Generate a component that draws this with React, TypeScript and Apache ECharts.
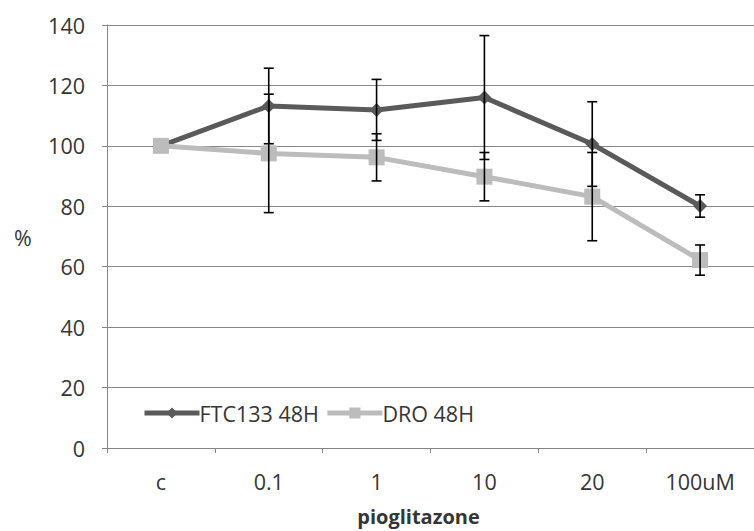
import React, { useEffect, useRef } from "react";
import * as echarts from "echarts";

const categories = ["c", "0.1", "1", "10", "20", "100uM"];
const ftcValues = [100, 113.2, 111.9, 116, 100.6, 80.1];
const ftcErrors = [0, 12.5, 10.1, 20.5, 14, 3.7];
const droValues = [100, 97.5, 96.2, 89.8, 83.2, 62.2];
const droErrors = [0, 19.6, 7.8, 8, 14.6, 5];
const yTicks = { min: 0, max: 140, interval: 20 };

const FONT = "'Open Sans', 'Noto Sans', sans-serif";
const TXT = "#353535";
const FS = 21.5;

function errData(vals: number[], errs: number[]) {
  return vals
    .map((v, i) => [i, v - errs[i], v + errs[i], errs[i]])
    .filter((d) => d[3] > 0);
}

function renderErr(params: any, api: any) {
  const x = api.value(0);
  const lo = api.coord([x, api.value(1)]);
  const hi = api.coord([x, api.value(2)]);
  const w = 5;
  const style = { stroke: "#000", lineWidth: 1.6 };
  return {
    type: "group",
    children: [
      { type: "line", shape: { x1: hi[0], y1: hi[1], x2: lo[0], y2: lo[1] }, style },
      { type: "line", shape: { x1: hi[0] - w, y1: hi[1], x2: hi[0] + w, y2: hi[1] }, style },
      { type: "line", shape: { x1: lo[0] - w, y1: lo[1], x2: lo[0] + w, y2: lo[1] }, style },
    ],
  };
}

export default function App() {
  const ref = useRef<HTMLDivElement>(null);
  useEffect(() => {
    if (!ref.current) return;
    const chart = echarts.init(ref.current, undefined, { renderer: "svg" });
    chart.setOption({
      animation: false,
      backgroundColor: "#fff",
      textStyle: { fontFamily: FONT },
      grid: { left: 107, top: 25, width: 652, height: 423, containLabel: false },
      legend: {
        data: ["FTC133 48H", "DRO 48H"],
        left: 137,
        top: 397,
        itemWidth: 55,
        itemHeight: 14,
        itemGap: 6,
        lineStyle: { width: 5 },
        textStyle: { fontFamily: FONT, fontSize: FS, color: TXT, padding: [0, 0, 0, -5] },
      },
      xAxis: {
        type: "category",
        data: categories,
        boundaryGap: true,
        name: "pioglitazone",
        nameLocation: "middle",
        nameGap: 58,
        nameTextStyle: {
          fontFamily: FONT,
          fontSize: 20,
          fontWeight: "bold",
          color: TXT,
          padding: [0, 24, 0, 0],
        },
        axisLine: { show: true, lineStyle: { color: "#868686", width: 1 } },
        axisTick: { show: true, length: 5, lineStyle: { color: "#868686" } },
        axisLabel: { fontFamily: FONT, fontSize: FS, color: TXT, margin: 22 },
        splitLine: { show: false },
      },
      yAxis: {
        type: "value",
        min: yTicks.min,
        max: yTicks.max,
        interval: yTicks.interval,
        axisLine: { show: true, lineStyle: { color: "#868686", width: 1 } },
        axisTick: { show: true, length: 5, lineStyle: { color: "#868686" } },
        axisLabel: { fontFamily: FONT, fontSize: FS, color: TXT, margin: 22 },
        splitLine: { show: true, lineStyle: { color: "#878787", width: 1 } },
      },
      graphic: [
        {
          type: "text",
          left: 14,
          top: 226,
          style: { text: "%", fontFamily: FONT, fontSize: FS, fill: TXT },
        },
      ],
      series: [
        {
          name: "FTC133 48H",
          type: "line",
          data: ftcValues,
          symbol: "diamond",
          symbolSize: 14,
          lineStyle: { color: "#5a5a5a", width: 5 },
          itemStyle: { color: "#5a5a5a" },
          z: 2,
        },
        {
          name: "DRO 48H",
          type: "line",
          data: droValues,
          symbol: "rect",
          symbolSize: 16,
          lineStyle: { color: "#bcbcbc", width: 5 },
          itemStyle: { color: "#bcbcbc" },
          z: 3,
        },
        {
          name: "ftcErr",
          type: "custom",
          data: errData(ftcValues, ftcErrors),
          renderItem: renderErr,
          encode: { x: 0, y: [1, 2] },
          z: 5,
          silent: true,
        },
        {
          name: "droErr",
          type: "custom",
          data: errData(droValues, droErrors),
          renderItem: renderErr,
          encode: { x: 0, y: [1, 2] },
          z: 5,
          silent: true,
        },
      ],
    });
    return () => chart.dispose();
  }, []);
  return (
    <div
      ref={ref}
      style={{ position: "fixed", left: 0, top: 0, width: 754, height: 531 }}
    />
  );
}
